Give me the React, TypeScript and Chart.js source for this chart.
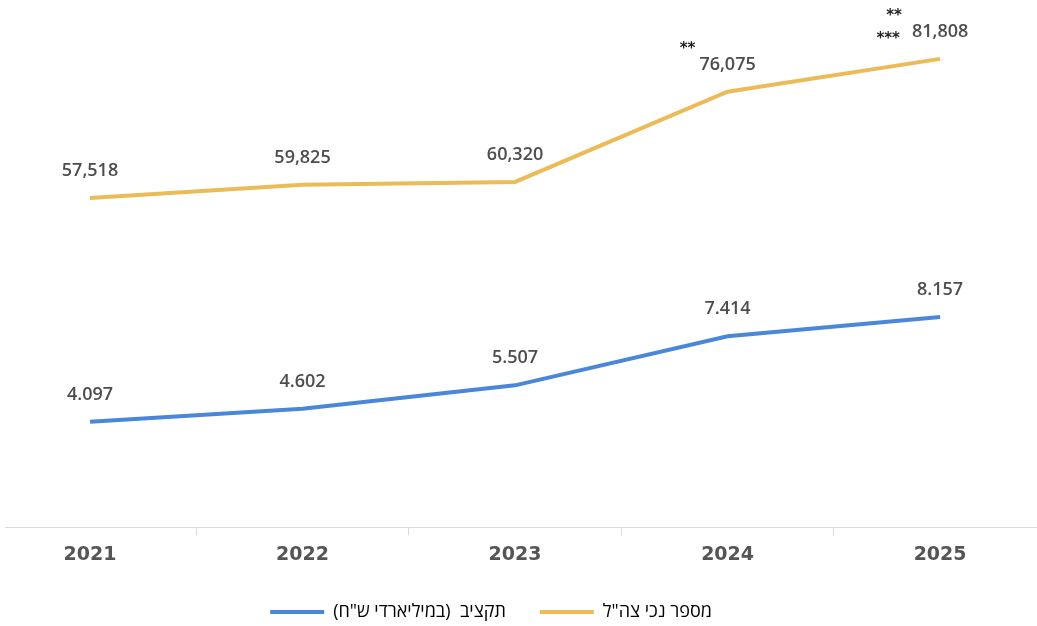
import React, { useEffect, useRef } from "react";
import { Chart, registerables } from "chart.js";

Chart.register(...registerables);

const years = ["2021", "2022", "2023", "2024", "2025"];
const veterans = [57518, 59825, 60320, 76075, 81808];
const budget = [4.097, 4.602, 5.507, 7.414, 8.157];
const notesUpper = ["", "", "", "**", "**"];
const notesSide = ["", "", "", "", "***"];
const labelVeterans = "מספר נכי צה\"ל";
const labelBudget = "תקציב  (במיליארדי ש\"ח)";

const ORANGE = "#ebbb58";
const BLUE = "#4a87d8";

const valueLabels = {
  id: "valueLabels",
  afterLayout(chart: any) {
    const lg = chart.legend;
    if (lg) {
      lg.left -= 30;
      lg.right -= 30;
      lg.top += 5;
      lg.bottom += 5;
    }
  },
  afterDatasetsDraw(chart: any) {
    const ctx = chart.ctx;
    ctx.save();
    chart.data.datasets.forEach((ds: any, di: number) => {
      const meta = chart.getDatasetMeta(di);
      meta.data.forEach((pt: any, i: number) => {
        const v = ds.data[i].y;
        const text = di === 0 ? v.toLocaleString("en-US") : v.toFixed(3);
        ctx.font = "600 18px 'Open Sans', 'DejaVu Sans', sans-serif";
        ctx.fillStyle = "#4d4d4d";
        ctx.textAlign = "center";
        ctx.textBaseline = "middle";
        const ly = pt.y - 27;
        ctx.fillText(text, pt.x, ly);
        if (di === 0) {
          const w = ctx.measureText(text).width;
          const left = pt.x - w / 2;
          ctx.font = "bold 15px 'DejaVu Sans', sans-serif";
          ctx.fillStyle = "#222";
          ctx.textAlign = "right";
          const side = notesSide[i];
          const sideRight = left - 12;
          if (side) {
            ctx.fillText(side, sideRight, ly + 7);
          }
          const up = notesUpper[i];
          if (up) {
            const r = side ? sideRight + 2 : left - 4;
            ctx.fillText(up, r, ly - 16);
          }
        }
      });
    });
    ctx.restore();
  },
};

export default function App() {
  const ref = useRef<HTMLCanvasElement | null>(null);
  useEffect(() => {
    if (!ref.current) return;
    const chart = new Chart(ref.current, {
      type: "line",
      data: {
        datasets: [
          {
            label: labelVeterans,
            data: veterans.map((v, i) => ({ x: i, y: v })),
            borderColor: ORANGE,
            backgroundColor: ORANGE,
            borderWidth: 4,
            pointRadius: 0,
            yAxisID: "y",
          },
          {
            label: labelBudget,
            data: budget.map((v, i) => ({ x: i, y: v })),
            borderColor: BLUE,
            backgroundColor: BLUE,
            borderWidth: 4,
            pointRadius: 0,
            yAxisID: "y1",
          },
        ],
      },
      options: {
        animation: false,
        responsive: true,
        maintainAspectRatio: false,
        layout: { padding: { left: 5, right: 0, top: 12, bottom: 0 } },
        scales: {
          x: {
            type: "linear",
            min: -0.4,
            max: 4.456,
            afterBuildTicks: (scale: any) => {
              const t = [];
              for (let v = 0; v <= 4; v += 0.5) t.push({ value: v });
              scale.ticks = t;
            },
            afterFit: (scale: any) => {
              scale.height -= 10;
            },
            ticks: {
              autoSkip: false,
              maxRotation: 0,
              padding: 8,
              color: "#555",
              font: { family: "'DejaVu Sans', sans-serif", weight: "bold", size: 19 },
              callback: (value: any) =>
                Number.isInteger(value) ? years[value] : "",
            },
            grid: {
              drawOnChartArea: false,
              drawTicks: true,
              tickLength: 8,
              color: (c: any) =>
                c.tick && Number.isInteger(c.tick.value) ? "rgba(0,0,0,0)" : "#d9d9d9",
            },
            border: { display: true, color: "#d9d9d9", width: 1 },
          },
          y: { display: false, min: 0, max: 90000 },
          y1: { display: false, min: 0, max: 20 },
        },
        plugins: {
          tooltip: { enabled: false },
          legend: {
            position: "bottom",
            reverse: true,
            textDirection: "rtl",
            labels: {
              boxWidth: 54,
              boxHeight: 4,
              padding: 34,
              color: "#555",
              font: { family: "'Open Sans', 'DejaVu Sans', sans-serif", size: 18 },
              generateLabels: (ch: any) =>
                ch.data.datasets.map((ds: any, i: number) => ({
                  text: ds.label,
                  fillStyle: ds.borderColor,
                  strokeStyle: ds.borderColor,
                  lineWidth: 0,
                  hidden: false,
                  datasetIndex: i,
                })),
            },
          },
        },
      },
      plugins: [valueLabels],
    } as any);
    return () => chart.destroy();
  }, []);
  return (
    <div style={{ position: "fixed", left: 0, top: 0, width: 1037, height: 626, background: "#fff" }}>
      <canvas ref={ref} />
    </div>
  );
}
